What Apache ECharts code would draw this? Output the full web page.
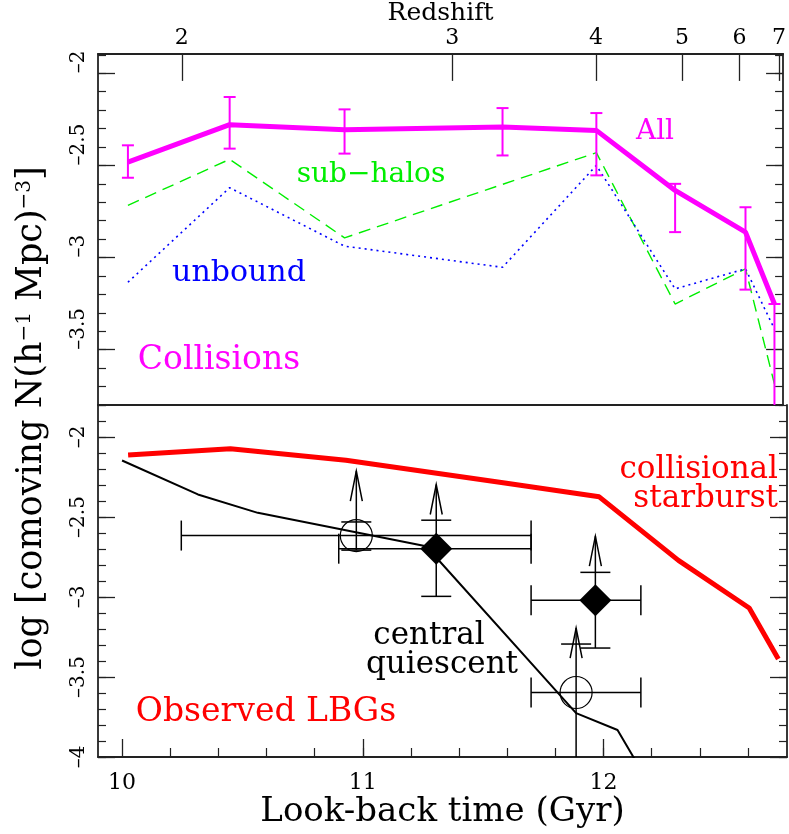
<!DOCTYPE html>
<html>
<head>
<meta charset="utf-8">
<script src="https://cdn.jsdelivr.net/npm/echarts@6/dist/echarts.min.js"></script>
<style>
  html, body { margin: 0; padding: 0; background: #fff; }
  #chart { width: 789px; height: 834px; }
</style>
</head>
<body>
<div id="chart"></div>
<script>
// look-back time (Gyr) of the model outputs
const snapTimes = [10.025, 10.45, 10.93, 11.59, 11.982, 12.311, 12.605, 12.726];

// upper panel: collision rate densities
const allRate = [-2.482, -2.279, -2.306, -2.292, -2.31, -2.636, -2.862, -3.252];
const allErrLo = [-2.567, -2.409, -2.436, -2.446, -2.554, -2.862, -3.174, -3.95];
const allErrHi = [-2.391, -2.129, -2.196, -2.189, -2.216, -2.6, -2.727, -3.252];
const subHaloRate = [-2.717, -2.467, -2.893, -2.603, -2.431, -3.252, -3.061, -3.686];
const unboundRate = [-3.134, -2.621, -2.938, -3.053, -2.5, -3.17, -3.061, -3.388];

// lower panel: model number densities
const starburstDensity = [-2.113, -2.073, -2.145, -2.287, -2.374, -2.771, -3.069, -3.388];
const quiescentTimes = [10.0, 10.315, 10.564, 11.263, 11.886, 12.058, 12.311];
const quiescentDensity = [-2.147, -2.359, -2.474, -2.683, -3.726, -3.831, -4.48];

// observed LBGs (lower limits)
const obsTime = [10.973, 11.305, 11.966, 11.886];
const obsTimeLo = [10.246, 10.90, 11.699, 11.699];
const obsTimeHi = [11.699, 11.699, 12.155, 12.155];
const obsValue = [-2.616, -2.698, -3.021, -3.597];
const obsValueLo = [-2.707, -2.996, -3.319, -4.3];
const obsValueHi = [-2.531, -2.52, -2.846, -3.294];
const obsArrowTip = [-2.213, -2.297, -2.62, -3.194];
const obsFilled = [false, true, true, false];

// axes
const redshiftLabels = ['2', '3', '4', '5', '6', '7'];
const redshiftTimes = [10.25, 11.38, 11.98, 12.34, 12.58, 12.745];
const timeTicks = [10, 11, 12];
const topMajorTicks = [-3.5, -3, -2.5, -2];
const bottomMajorTicks = [-4, -3.5, -3, -2.5, -2];

const FONT = 'DejaVu Serif';
const AXIS_COLOR = '#222';

function ticksBetween(a, b, step) {
  const out = [];
  for (let v = a; v <= b + 1e-9; v += step) out.push(+v.toFixed(3));
  return out;
}

const chart = echarts.init(document.getElementById('chart'));

const xMin = 9.9, xMax = 12.762;
const topMin = -3.8, topMax = -1.895;
const botMin = -4, botMax = -1.8;

function yPair(gridIndex, min, max, majors, position, showLabel, labelAlign) {
  const major = {
    type: 'value', gridIndex: gridIndex, position: position, min: min, max: max,
    axisLine: { show: true, lineStyle: { color: AXIS_COLOR, width: 1.8 } },
    axisTick: { show: true, inside: true, length: 17, customValues: majors, lineStyle: { color: AXIS_COLOR, width: 1.3 } },
    axisLabel: {
      show: showLabel, customValues: majors, rotate: 90, margin: 9,
      fontFamily: FONT, fontSize: 20, color: '#000',
      formatter: v => String(v).replace('-', '\u2013')
    },
    splitLine: { show: false }
  };
  if (labelAlign) major.axisLabel.align = labelAlign;
  const minor = {
    type: 'value', gridIndex: gridIndex, position: position, min: min, max: max,
    axisLine: { show: false },
    axisTick: { show: true, inside: true, length: 8, customValues: ticksBetween(min, max, 0.1), lineStyle: { color: AXIS_COLOR, width: 1.2 } },
    axisLabel: { show: false },
    splitLine: { show: false }
  };
  return [major, minor];
}

const option = {
  animation: false,
  backgroundColor: '#fff',
  grid: [
    { left: 98, right: 2, top: 53, height: 352 },
    { left: 98, right: 2, top: 405, height: 352 }
  ],
  xAxis: [
    { // 0: upper panel bottom edge
      type: 'value', gridIndex: 0, position: 'bottom', min: xMin, max: xMax,
      axisLine: { show: true, lineStyle: { color: AXIS_COLOR, width: 1.8 } },
      axisTick: { show: false }, axisLabel: { show: false }, splitLine: { show: false }
    },
    { // 1: redshift scale on top
      type: 'value', gridIndex: 0, position: 'top', min: xMin, max: xMax,
      axisLine: { show: true, lineStyle: { color: AXIS_COLOR, width: 1.8 } },
      axisTick: { show: true, inside: true, length: 27, customValues: redshiftTimes, lineStyle: { color: AXIS_COLOR, width: 1.3 } },
      axisLabel: {
        show: true, customValues: redshiftTimes, margin: 5,
        fontFamily: FONT, fontSize: 22, color: '#000',
        formatter: v => {
          const i = redshiftTimes.findIndex(t => Math.abs(t - v) < 1e-6);
          return i >= 0 ? redshiftLabels[i] : '';
        }
      },
      name: 'Redshift', nameLocation: 'middle', nameGap: 27,
      nameTextStyle: { fontFamily: FONT, fontSize: 25, color: '#000' },
      splitLine: { show: false }
    },
    { // 2: look-back time, major ticks
      type: 'value', gridIndex: 1, position: 'bottom', min: xMin, max: xMax,
      axisLine: { show: true, lineStyle: { color: AXIS_COLOR, width: 1.8 } },
      axisTick: { show: true, inside: true, length: 18, customValues: timeTicks, lineStyle: { color: AXIS_COLOR, width: 1.3 } },
      axisLabel: { show: true, customValues: timeTicks, margin: 15, fontFamily: FONT, fontSize: 22, color: '#000' },
      name: 'Look-back time (Gyr)', nameLocation: 'middle', nameGap: 35,
      nameTextStyle: { fontFamily: FONT, fontSize: 34, color: '#000' },
      splitLine: { show: false }
    },
    { // 3: look-back time, minor ticks
      type: 'value', gridIndex: 1, position: 'bottom', min: xMin, max: xMax,
      axisLine: { show: false },
      axisTick: { show: true, inside: true, length: 9, customValues: ticksBetween(10.2, 12.6, 0.2), lineStyle: { color: AXIS_COLOR, width: 1.2 } },
      axisLabel: { show: false }, splitLine: { show: false }
    }
  ],
  yAxis: [].concat(
    yPair(0, topMin, topMax, topMajorTicks, 'left', true, 'left'),
    yPair(0, topMin, topMax, topMajorTicks, 'right', false),
    yPair(1, botMin, botMax, bottomMajorTicks, 'left', true),
    yPair(1, botMin, botMax, bottomMajorTicks, 'right', false)
  ),
  series: [
    {
      name: 'sub-halos', type: 'line', xAxisIndex: 0, yAxisIndex: 0,
      data: snapTimes.map((t, i) => [t, subHaloRate[i]]),
      symbol: 'none', lineStyle: { color: '#00ee00', width: 1.4, type: [12, 7] }
    },
    {
      name: 'unbound', type: 'line', xAxisIndex: 0, yAxisIndex: 0,
      data: snapTimes.map((t, i) => [t, unboundRate[i]]),
      symbol: 'none', lineStyle: { color: '#0000ff', width: 1.6, type: [2, 4] }
    },
    {
      name: 'All', type: 'line', xAxisIndex: 0, yAxisIndex: 0,
      data: snapTimes.map((t, i) => [t, allRate[i]]),
      symbol: 'none', lineStyle: { color: '#ff00ff', width: 5 }, z: 4
    },
    {
      name: 'All errors', type: 'custom', xAxisIndex: 0, yAxisIndex: 0, clip: true, z: 5,
      data: snapTimes.map((t, i) => [t, allErrLo[i], allErrHi[i]]),
      encode: { x: 0, y: [1, 2] },
      renderItem: (params, api) => {
        const lo = api.coord([api.value(0), api.value(1)]);
        const hi = api.coord([api.value(0), api.value(2)]);
        const cap = 6;
        const st = { stroke: '#ff00ff', lineWidth: 2 };
        return {
          type: 'group',
          children: [
            { type: 'line', shape: { x1: lo[0], y1: lo[1], x2: hi[0], y2: hi[1] }, style: st },
            { type: 'line', shape: { x1: hi[0] - cap, y1: hi[1], x2: hi[0] + cap, y2: hi[1] }, style: st },
            { type: 'line', shape: { x1: lo[0] - cap, y1: lo[1], x2: lo[0] + cap, y2: lo[1] }, style: st }
          ]
        };
      }
    },
    {
      name: 'collisional starburst', type: 'line', xAxisIndex: 2, yAxisIndex: 4,
      data: snapTimes.map((t, i) => [t, starburstDensity[i]]),
      symbol: 'none', lineStyle: { color: '#ff0000', width: 5 }
    },
    {
      name: 'central quiescent', type: 'line', xAxisIndex: 2, yAxisIndex: 4,
      data: quiescentTimes.map((t, i) => [t, quiescentDensity[i]]),
      symbol: 'none', lineStyle: { color: '#000', width: 2 }
    },
    {
      name: 'Observed LBGs', type: 'custom', xAxisIndex: 2, yAxisIndex: 4, clip: true, z: 5,
      data: obsTime.map((t, i) => [t, obsValue[i], obsTimeLo[i], obsTimeHi[i], obsValueLo[i], obsValueHi[i], obsArrowTip[i], obsFilled[i] ? 1 : 0]),
      encode: { x: 0, y: 1 },
      renderItem: (params, api) => {
        const t = api.value(0), v = api.value(1);
        const c = api.coord([t, v]);
        const xl = api.coord([api.value(2), v])[0];
        const xh = api.coord([api.value(3), v])[0];
        const yl = api.coord([t, api.value(4)])[1];
        const yh = api.coord([t, api.value(5)])[1];
        const ya = api.coord([t, api.value(6)])[1];
        const filled = api.value(7) === 1;
        const cap = 15, r = 16;
        const st = { stroke: '#000', lineWidth: 1.5, fill: null };
        const kids = [
          { type: 'line', shape: { x1: xl, y1: c[1], x2: xh, y2: c[1] }, style: st },
          { type: 'line', shape: { x1: xl, y1: c[1] - cap, x2: xl, y2: c[1] + cap }, style: st },
          { type: 'line', shape: { x1: xh, y1: c[1] - cap, x2: xh, y2: c[1] + cap }, style: st },
          { type: 'line', shape: { x1: c[0], y1: yl, x2: c[0], y2: ya }, style: st },
          { type: 'line', shape: { x1: c[0] - cap, y1: yl, x2: c[0] + cap, y2: yl }, style: st },
          { type: 'line', shape: { x1: c[0] - cap, y1: yh, x2: c[0] + cap, y2: yh }, style: st },
          { type: 'polyline', shape: { points: [[c[0] - 6, ya + 30], [c[0], ya], [c[0] + 6, ya + 30]] }, style: st }
        ];
        if (filled) {
          kids.push({ type: 'polygon', shape: { points: [[c[0], c[1] - r], [c[0] + r, c[1]], [c[0], c[1] + r], [c[0] - r, c[1]]] }, style: { fill: '#000' } });
        } else {
          kids.push({ type: 'circle', shape: { cx: c[0], cy: c[1], r: r }, style: { stroke: '#000', lineWidth: 1.2, fill: null } });
        }
        return { type: 'group', children: kids };
      }
    }
  ],
  graphic: [
    {
      type: 'text', x: 32, y: 418, rotation: Math.PI / 2,
      style: {
        text: '{b|log [comoving N(h}{s|\u22121}{b| Mpc)}{s|\u22123}{b|]}',
        align: 'center', verticalAlign: 'middle',
        rich: {
          b: { fontFamily: FONT, fontSize: 35, fill: '#000', verticalAlign: 'bottom' },
          s: { fontFamily: FONT, fontSize: 20, fill: '#000', verticalAlign: 'top' }
        }
      }
    },
    { type: 'text', x: 655, y: 132, style: { text: 'All', fontFamily: FONT, fontSize: 28, fill: '#ff00ff', align: 'center', verticalAlign: 'middle' } },
    { type: 'text', x: 371, y: 175, style: { text: 'sub\u2212halos', fontFamily: FONT, fontSize: 28, fill: '#00ee00', align: 'center', verticalAlign: 'middle' } },
    { type: 'text', x: 239, y: 273, style: { text: 'unbound', fontFamily: FONT, fontSize: 30, fill: '#0000ff', align: 'center', verticalAlign: 'middle' } },
    { type: 'text', x: 219, y: 360, style: { text: 'Collisions', fontFamily: FONT, fontSize: 33, fill: '#ff00ff', align: 'center', verticalAlign: 'middle' } },
    { type: 'text', x: 778, y: 470, style: { text: 'collisional', fontFamily: FONT, fontSize: 31, fill: '#ff0000', align: 'right', verticalAlign: 'middle' } },
    { type: 'text', x: 778, y: 499, style: { text: 'starburst', fontFamily: FONT, fontSize: 31, fill: '#ff0000', align: 'right', verticalAlign: 'middle' } },
    { type: 'text', x: 429, y: 636, style: { text: 'central', fontFamily: FONT, fontSize: 31, fill: '#000', align: 'center', verticalAlign: 'middle' } },
    { type: 'text', x: 442, y: 665, style: { text: 'quiescent', fontFamily: FONT, fontSize: 31, fill: '#000', align: 'center', verticalAlign: 'middle' } },
    { type: 'text', x: 266, y: 712, style: { text: 'Observed LBGs', fontFamily: FONT, fontSize: 33, fill: '#ff0000', align: 'center', verticalAlign: 'middle' } }
  ]
};

chart.setOption(option);
</script>
</body>
</html>
